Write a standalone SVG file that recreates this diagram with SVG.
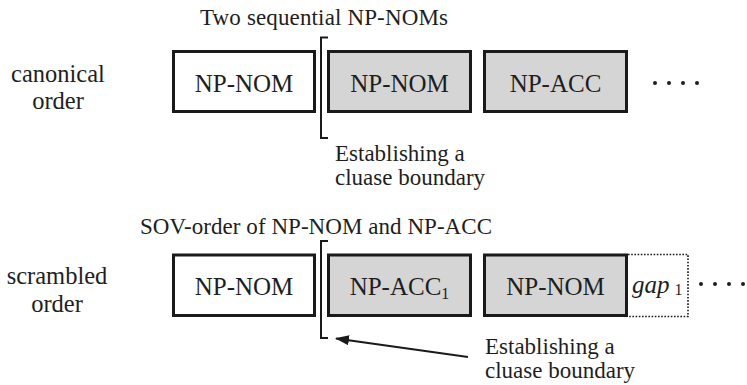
<svg xmlns="http://www.w3.org/2000/svg" width="747" height="385" viewBox="0 0 747 385">
  <style>
    text { font-family: "Liberation Serif", "Times New Roman", serif; fill: #1e1e1e; }
    .cap { font-size: 23px; }
    .side { font-size: 24.5px; text-anchor: middle; }
    .lbl { font-size: 25px; text-anchor: middle; }
    .box { stroke: #1a1a1a; stroke-width: 3; }
    .plain { fill: #ffffff; }
    .shade { fill: #d5d5d5; }
    .brk { fill: none; stroke: #1a1a1a; stroke-width: 2; }
    .gapbox { fill: none; stroke: #1a1a1a; stroke-width: 1.6; stroke-dasharray: 1.6 1.6; }
    .dot { fill: #1e1e1e; }
  </style>
  <defs>
    <marker id="head" viewBox="0 0 14 10" refX="13" refY="5" markerWidth="14" markerHeight="10" markerUnits="userSpaceOnUse" orient="auto">
      <path d="M0,0 L14,5 L0,10 Z" fill="#1a1a1a"/>
    </marker>
  </defs>

  <!-- canonical order row -->
  <g id="canonical-label">
    <text class="side" x="58" y="82">canonical</text>
    <text class="side" x="58" y="109">order</text>
  </g>
  <g id="canonical-caption">
    <text class="cap" x="200" y="25" textLength="248" lengthAdjust="spacing">Two sequential NP-NOMs</text>
  </g>
  <g id="c-np-nom-1">
    <rect class="box plain" x="173.5" y="51.5" width="141" height="60"/>
    <text class="lbl" x="244" y="91.5">NP-NOM</text>
  </g>
  <g id="c-np-nom-2">
    <rect class="box shade" x="328.5" y="51.5" width="142" height="60"/>
    <text class="lbl" x="399.5" y="91.5">NP-NOM</text>
  </g>
  <g id="c-np-acc">
    <rect class="box shade" x="484.5" y="51.5" width="142" height="60"/>
    <text class="lbl" x="555.5" y="91.5">NP-ACC</text>
  </g>
  <g id="c-ellipsis">
    <circle class="dot" cx="655" cy="83" r="2"/>
    <circle class="dot" cx="669" cy="83" r="2"/>
    <circle class="dot" cx="683" cy="83" r="2"/>
    <circle class="dot" cx="697" cy="83" r="2"/>
  </g>
  <g id="c-boundary-note">
    <text class="cap" x="335" y="161">Establishing a</text>
    <text class="cap" x="335" y="185">cluase boundary</text>
  </g>

  <!-- scrambled order row -->
  <g id="scrambled-label">
    <text class="side" x="57" y="284">scrambled</text>
    <text class="side" x="57" y="312">order</text>
  </g>
  <g id="scrambled-caption">
    <text class="cap" x="140" y="234" textLength="352" lengthAdjust="spacing">SOV-order of NP-NOM and NP-ACC</text>
  </g>
  <g id="s-np-nom-1">
    <rect class="box plain" x="173.5" y="255" width="141" height="60.5"/>
    <text class="lbl" x="244" y="295">NP-NOM</text>
  </g>
  <g id="s-np-acc">
    <rect class="box shade" x="328.5" y="255" width="142" height="60.5"/>
    <text class="lbl" x="399.5" y="295">NP-ACC<tspan font-size="16" dy="4">1</tspan></text>
  </g>
  <g id="s-np-nom-2">
    <rect class="box shade" x="484.5" y="255" width="142" height="60.5"/>
    <text class="lbl" x="555.5" y="295">NP-NOM</text>
  </g>
  <g id="s-gap">
    <path class="gapbox" d="M628,254.5 H688 V316.5 H628"/>
    <text x="632" y="293" font-size="25" font-style="italic">gap<tspan font-size="16" font-style="normal" dx="5" dy="2">1</tspan></text>
  </g>
  <g id="s-ellipsis">
    <circle class="dot" cx="701" cy="284" r="2"/>
    <circle class="dot" cx="715" cy="284" r="2"/>
    <circle class="dot" cx="729" cy="284" r="2"/>
    <circle class="dot" cx="743" cy="284" r="2"/>
  </g>
  <g id="s-boundary-note">
    <text class="cap" x="485" y="354">Establishing a</text>
    <text class="cap" x="485" y="378">cluase boundary</text>
  </g>

  <!-- connectors: boundary brackets and pointer -->
  <g id="connectors">
    <path class="brk" d="M328,37.5 H321 V138 H328"/>
    <path class="brk" d="M328,241 H321 V338 H328"/>
    <line x1="468" y1="357" x2="336" y2="338.5" stroke="#1a1a1a" stroke-width="2" marker-end="url(#head)"/>
  </g>
</svg>
